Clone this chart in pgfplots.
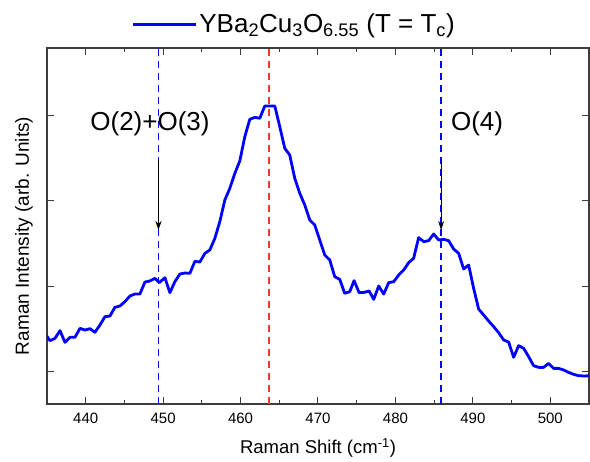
\documentclass[border=0pt]{standalone}
\usepackage{fontspec}
\setmainfont{Liberation Sans}
\usepackage{pgfplots}
\pgfplotsset{compat=1.18}
\usetikzlibrary{arrows.meta}
\definecolor{myblue}{RGB}{0,0,255}
\definecolor{myred}{RGB}{255,50,50}
\definecolor{framec}{RGB}{60,60,60}
\begin{document}
\begin{tikzpicture}
\path[use as bounding box] (0pt,0pt) rectangle (590pt,462pt);
\begin{axis}[
  at={(47pt,58pt)}, anchor=south west,
  scale only axis, width=542pt, height=356pt,
  xmin=435, xmax=505, ymin=0.612, ymax=4.8,
  xtick={440,450,...,500}, minor x tick num=1,
  ytick={1,2,3,4}, yticklabels={},
  tick align=inside,
  major tick length=7pt, minor tick length=4pt,
  axis line style={framec, line width=1.2pt},
  every tick/.style={framec, line width=1pt},
  /pgf/number format/assume math mode=true,
  xticklabel style={font=\fontsize{15}{18}\selectfont, anchor=center, yshift=-14pt},
  xlabel={Raman Shift (cm\textsuperscript{-1})},
  xlabel style={font=\fontsize{18.5}{22}\selectfont, at={(axis description cs:0.5,0)}, anchor=center, yshift=-44pt},
  ylabel={Raman Intensity (arb. Units)},
  ylabel style={font=\fontsize{19}{22}\selectfont, at={(axis description cs:0,0.472)}, anchor=center, yshift=23pt},
  legend style={at={(axis description cs:0.456,1.067)}, anchor=center, draw=none, fill=none, font=\fontsize{26}{30}\selectfont},
  legend image code/.code={\draw[#1] (0pt,0pt) -- (63pt,0pt);},
]
\addplot[color=myblue, line width=1.5pt, dash pattern=on 7pt off 5pt, forget plot] coordinates {(449.4,0.612) (449.4,4.8)};
\addplot[color=myred, line width=1.5pt, dash pattern=on 7pt off 5pt, forget plot] coordinates {(463.7,0.612) (463.7,4.8)};
\addplot[color=myblue, line width=1.5pt, dash pattern=on 7pt off 5pt, forget plot] coordinates {(485.9,0.612) (485.9,4.8)};
\addplot[color=myblue, line width=2.8pt, line join=round] coordinates {
(434.96,1.412) (435.39,1.357) (436.03,1.384) (436.68,1.475) (437.32,1.337)
(437.97,1.396) (438.61,1.396) (439.26,1.502) (439.90,1.482) (440.55,1.498)
(441.19,1.455) (441.84,1.541) (442.48,1.639) (443.13,1.647) (443.77,1.749)
(444.42,1.765) (445.06,1.816) (445.71,1.882) (446.35,1.906) (447.00,1.906)
(447.65,2.047) (448.29,2.059) (448.94,2.090) (449.49,2.039) (450.23,2.098)
(450.87,1.922) (451.52,2.051) (452.16,2.141) (452.81,2.153) (453.45,2.149)
(454.10,2.290) (454.74,2.282) (455.39,2.384) (456.03,2.424) (456.68,2.561)
(457.32,2.757) (457.97,3.012) (458.61,3.149) (459.26,3.325) (459.90,3.471)
(460.55,3.757) (461.19,3.961) (461.84,3.984) (462.48,3.973) (463.13,4.118)
(463.77,4.118) (464.42,4.118) (465.06,3.875) (465.71,3.620) (466.35,3.541)
(467.00,3.267) (467.65,3.090) (468.29,2.953) (468.94,2.776) (469.58,2.718)
(470.23,2.541) (470.87,2.365) (471.52,2.306) (472.16,2.110) (472.81,2.078)
(473.45,1.914) (474.10,1.933) (474.66,2.063) (475.31,1.922) (475.95,1.925)
(476.60,1.941) (477.20,1.843) (477.84,2.000) (478.49,1.906) (479.13,2.039)
(479.78,2.051) (480.42,2.129) (481.07,2.188) (481.71,2.275) (482.35,2.325)
(483.00,2.569) (483.65,2.522) (484.29,2.533) (484.94,2.612) (485.59,2.541)
(486.23,2.549) (486.88,2.533) (487.52,2.435) (488.17,2.384) (488.81,2.200)
(489.46,2.247) (490.10,1.973) (490.75,1.729) (491.39,1.659) (492.04,1.588)
(492.69,1.522) (493.33,1.451) (493.98,1.365) (494.62,1.341) (495.27,1.161)
(495.91,1.298) (496.56,1.267) (497.20,1.169) (497.85,1.063) (498.49,1.043)
(499.14,1.043) (499.78,1.090) (500.43,1.031) (501.08,1.031) (501.72,1.012)
(502.37,0.984) (503.01,0.961) (503.66,0.945) (504.44,0.941) (505.08,0.945)
};
\addlegendentry{YBa\textsubscript{2}Cu\textsubscript{3}O\textsubscript{6.55} (T = T\textsubscript{c})}
\draw[-{Stealth[length=9pt,width=6pt]}, line width=0.9pt] (axis cs:449.4,3.482) -- (axis cs:449.4,2.659);
\draw[-{Stealth[length=9pt,width=6pt]}, line width=0.9pt] (axis cs:485.9,3.482) -- (axis cs:485.9,2.659);
\node[font=\fontsize{26}{30}\selectfont, anchor=base] at (axis cs:448.3,3.824) {O(2)+O(3)};
\node[font=\fontsize{26}{30}\selectfont, anchor=base] at (axis cs:490.55,3.824) {O(4)};
\end{axis}
\end{tikzpicture}
\end{document}
